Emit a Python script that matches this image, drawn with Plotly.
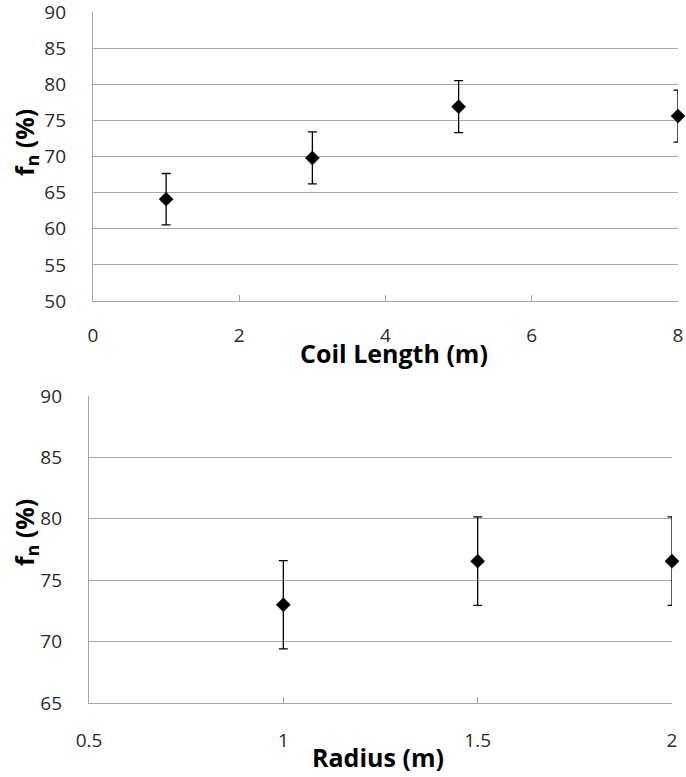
import plotly.graph_objects as go

# Data
coil_length = [1, 3, 5, 8]
coil_fn = [64.1, 69.8, 76.9, 75.6]
coil_err = [3.55, 3.6, 3.6, 3.6]

radius = [1, 1.5, 2]
radius_fn = [73.0, 76.55, 76.55]
radius_err = [3.6, 3.6, 3.6]

x1_ticks = [0, 2, 4, 6, 8]
y1_ticks = [50, 55, 60, 65, 70, 75, 80, 85, 90]
x2_ticks = [0.5, 1, 1.5, 2]
y2_ticks = [65, 70, 75, 80, 85, 90]

W, H = 686, 777
FONT = "Open Sans"
TICKCOL = "#2b2b2b"
GRID = "#a6a6a6"

fig = go.Figure()

marker = dict(symbol="diamond", size=11, color="black",
              line=dict(color="#1f2f4f", width=0.5))

fig.add_trace(go.Scatter(
    x=coil_length, y=coil_fn, mode="markers", marker=marker,
    error_y=dict(type="data", array=coil_err, visible=True,
                 color="black", thickness=1.3, width=4.5),
    cliponaxis=False, xaxis="x", yaxis="y", showlegend=False))

fig.add_trace(go.Scatter(
    x=radius, y=radius_fn, mode="markers", marker=marker,
    error_y=dict(type="data", array=radius_err, visible=True,
                 color="black", thickness=1.3, width=4.5),
    cliponaxis=False, xaxis="x2", yaxis="y2", showlegend=False))

tickfont = dict(family=FONT, size=19, color=TICKCOL)

def xax(dom, rng, ticks, anchor, standoff):
    return dict(domain=dom, range=rng, tickvals=ticks, anchor=anchor,
                automargin=False, ticklabeloverflow="allow",
                showgrid=False, zeroline=False, showline=True,
                linecolor=GRID, linewidth=1.3, ticks="inside",
                ticklen=6, tickcolor=GRID, tickwidth=1,
                tickfont=tickfont, ticklabelstandoff=standoff, fixedrange=True)

def yax(dom, rng, ticks, anchor, standoff):
    return dict(domain=dom, range=rng, tickvals=ticks, anchor=anchor,
                automargin=False, ticklabeloverflow="allow",
                showgrid=True, gridcolor=GRID, gridwidth=1.3,
                zeroline=False, showline=True, linecolor=GRID,
                linewidth=1.3, ticks="outside", ticklen=12,
                tickcolor="rgba(0,0,0,0)", tickfont=tickfont,
                ticklabelstandoff=standoff, fixedrange=True)

fig.update_layout(
    width=W, height=H, autosize=False,
    margin=dict(l=0, r=0, t=0, b=0, pad=0),
    paper_bgcolor="white", plot_bgcolor="white",
    xaxis=xax([93 / W, 678 / W], [0, 8], x1_ticks, "y", 17),
    yaxis=yax([1 - 301 / H, 1 - 12 / H], [50, 90], y1_ticks, "x", 10),
    xaxis2=xax([89 / W, 672 / W], [0.5, 2], x2_ticks, "y2", 20),
    yaxis2=yax([1 - 703 / H, 1 - 396 / H], [65, 90], y2_ticks, "x2", 10),
)

titlefont = dict(family=FONT, size=25, color="black", weight="bold")

annos = [
    dict(text="Coil Length (m)", x=394 / W, y=1 - 353 / H),
    dict(text="Radius (m)", x=378 / W, y=1 - 757 / H),
    dict(text="f<sub>n</sub> (%)", x=25 / W, y=1 - 143 / H, textangle=-90),
    dict(text="f<sub>n</sub> (%)", x=25 / W, y=1 - 533 / H, textangle=-90),
]
for a in annos:
    fig.add_annotation(xref="paper", yref="paper", showarrow=False,
                       xanchor="center", yanchor="middle",
                       font=titlefont, **a)

fig.write_html(
    "out.html",
    config={"displayModeBar": False},
    post_script="document.body.style.margin='0';"
                "document.body.style.overflow='hidden';",
)
